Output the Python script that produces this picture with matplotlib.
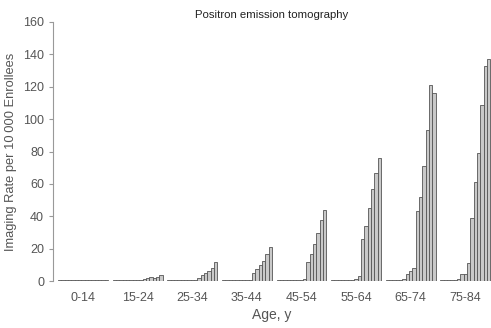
import numpy as np
import matplotlib.pyplot as plt

plt.rcParams['font.family'] = ['Liberation Sans', 'DejaVu Sans']

# Age groups and yearly imaging rates (15 years per group)
age_groups = ["0-14", "15-24", "25-34", "35-44", "45-54", "55-64", "65-74", "75-84"]
rates = [
    [0.6, 0.6, 0.6, 0.6, 0.6, 0.6, 0.6, 0.6, 0.6, 0.6, 0.6, 0.6, 0.6, 0.6, 0.6],
    [0.6, 0.6, 0.6, 0.6, 0.6, 0.6, 0.6, 0.6, 0.6, 1, 2, 2.5, 2, 2.5, 3.5],
    [0.6, 0.6, 0.6, 0.6, 0.6, 0.6, 0.6, 0.6, 0.6, 2, 3.5, 5, 6.5, 8, 12],
    [0.6, 0.6, 0.6, 0.6, 0.6, 0.6, 0.6, 0.6, 0.6, 5, 7.5, 10, 12.5, 17, 21],
    [0.6, 0.6, 0.6, 0.6, 0.6, 0.6, 0.6, 0.6, 1.5, 12, 17, 23, 30, 38, 44],
    [0.6, 0.6, 0.6, 0.6, 0.6, 0.6, 0.6, 1, 3, 26, 34, 45, 57, 67, 76],
    [0.6, 0.6, 0.6, 0.6, 0.6, 1.5, 4.5, 6.5, 8, 43, 52, 71, 93, 121, 116],
    [0.6, 0.6, 0.6, 0.6, 0.6, 1.5, 4.5, 4.5, 11, 39, 61, 79, 109, 133, 137],
]

n_years = 15
spacing = 16.4
offset = 1.5

fig = plt.figure(figsize=(4.91, 3.28), dpi=100)
ax = fig.add_axes([0.108, 0.143, 0.892, 0.79])

for g, vals in enumerate(rates):
    x = offset + g * spacing + np.arange(n_years) + 0.5
    ax.bar(x, vals, width=1.0, color="#c9c9c9", edgecolor="#555555", linewidth=0.6)

ax.set_xlim(0, 131.5)
ax.set_ylim(0, 160)
ax.set_yticks(np.arange(0, 161, 20))
ax.set_xticks([offset + g * spacing + n_years / 2 for g in range(len(age_groups))])
ax.set_xticklabels(age_groups)

for s in ["top", "right", "bottom"]:
    ax.spines[s].set_visible(False)
ax.spines["left"].set_color("#999999")
ax.spines["left"].set_linewidth(0.8)
ax.tick_params(axis="x", length=0, labelsize=9, colors="#555555", pad=8)
ax.tick_params(axis="y", length=3, width=0.8, color="#999999", labelsize=9, labelcolor="#555555")

ax.set_xlabel("Age, y", fontsize=10, color="#555555", labelpad=3)
ax.set_ylabel("Imaging Rate per 10\u2009000 Enrollees", fontsize=9.3, color="#555555", labelpad=4)
ax.set_title("Positron emission tomography", fontsize=8.2, color="#222222", pad=3)

fig.savefig("out.png", dpi=100)
